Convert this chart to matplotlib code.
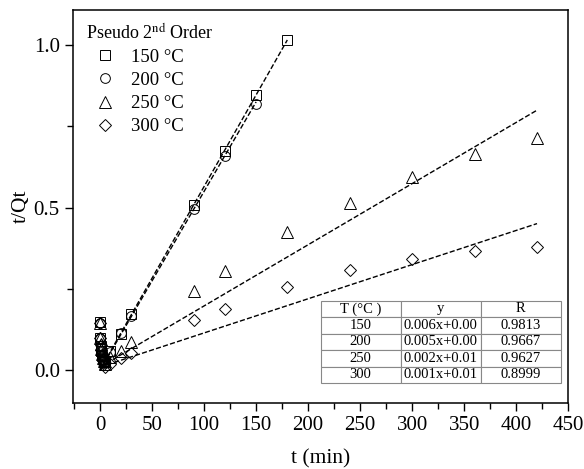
import numpy as np
import matplotlib.pyplot as plt
from matplotlib.ticker import MultipleLocator

plt.rcParams['font.family'] = ['Liberation Serif', 'DejaVu Serif']
plt.rcParams['mathtext.fontset'] = 'stix'

# t (min) and t/Qt
t_150 = [0, 0, 0.5, 1, 2, 3, 4, 5, 10, 20, 30, 90, 120, 150, 180]
y_150 = [0.148, 0.100, 0.075, 0.060, 0.045, 0.035, 0.025, 0.030, 0.058, 0.113, 0.172, 0.508, 0.675, 0.845, 1.015]
t_200 = [0, 0, 0.5, 1, 2, 3, 4, 5, 10, 20, 30, 90, 120, 150]
y_200 = [0.145, 0.098, 0.070, 0.055, 0.042, 0.030, 0.022, 0.028, 0.055, 0.114, 0.168, 0.495, 0.658, 0.820]
t_250 = [0, 0, 0.5, 1, 2, 3, 4, 5, 10, 20, 30, 90, 120, 180, 240, 300, 360, 420]
y_250 = [0.145, 0.100, 0.080, 0.065, 0.050, 0.038, 0.028, 0.020, 0.040, 0.058, 0.086, 0.243, 0.305, 0.425, 0.514, 0.594, 0.665, 0.714]
t_300 = [0, 0, 0.5, 1, 2, 3, 4, 5, 10, 20, 30, 90, 120, 180, 240, 300, 360, 420]
y_300 = [0.145, 0.100, 0.078, 0.062, 0.048, 0.035, 0.020, 0.010, 0.020, 0.037, 0.052, 0.154, 0.188, 0.255, 0.308, 0.342, 0.366, 0.378]

# linear fit lines drawn in the figure (slope, intercept, end time)
fit_slope = [0.00563, 0.00550, 0.00188, 0.00105]
fit_icpt = [0.002, 0.000, 0.010, 0.010]
fit_end = [180, 150, 420, 420]

labels = ['150 °C', '200 °C', '250 °C', '300 °C']
markers = ['s', 'o', '^', 'D']
sizes = [7, 7, 8, 6]

table_rows = [['150', '0.006x+0.00', '0.9813'],
              ['200', '0.005x+0.00', '0.9667'],
              ['250', '0.002x+0.01', '0.9627'],
              ['300', '0.001x+0.01', '0.8999']]
table_cols = ['T (°C )', 'y', 'R']

fig = plt.figure(figsize=(5.84, 4.69), dpi=100)
ax = fig.add_axes([0.125, 0.141, 0.848, 0.838])

series = [(t_150, y_150), (t_200, y_200), (t_250, y_250), (t_300, y_300)]
for i, (t, y) in enumerate(series):
    ax.plot(t, y, linestyle='none', marker=markers[i], ms=sizes[i],
            mfc='none', mec='black', mew=0.7, label=labels[i])
    xx = np.linspace(0, fit_end[i], 50)
    ax.plot(xx, fit_slope[i] * xx + fit_icpt[i], '--', color='black', lw=1.0)

ax.set_xlim(-26, 450)
ax.set_ylim(-0.10, 1.108)
ax.xaxis.set_major_locator(MultipleLocator(50))
ax.xaxis.set_minor_locator(MultipleLocator(25))
ax.yaxis.set_major_locator(MultipleLocator(0.5))
ax.yaxis.set_minor_locator(MultipleLocator(0.25))
ax.tick_params(which='major', direction='out', length=6, width=1, labelsize=15)
ax.tick_params(which='minor', direction='out', length=4, width=1)
for s in ax.spines.values():
    s.set_linewidth(1.1)

ax.set_xlabel('t (min)', fontsize=15.5, labelpad=10)
ax.set_ylabel('t/Qt', fontsize=15.5, labelpad=2)

leg = ax.legend(loc='upper left', frameon=False, fontsize=13.5,
                title='Pseudo 2$^{\\mathrm{nd}}$ Order', title_fontsize=13,
                handletextpad=0.4, labelspacing=0.32, borderaxespad=0.3)
leg._legend_box.align = 'left'

tbl = ax.table(cellText=table_rows, colLabels=table_cols, cellLoc='center',
               bbox=[0.50, 0.05, 0.485, 0.21])
tbl.auto_set_font_size(False)
tbl.set_fontsize(10.5)
for cell in tbl.get_celld().values():
    cell.set_edgecolor('#888888')
    cell.set_linewidth(0.8)
    cell.set_facecolor('white')

fig.savefig('out.png', dpi=100)
